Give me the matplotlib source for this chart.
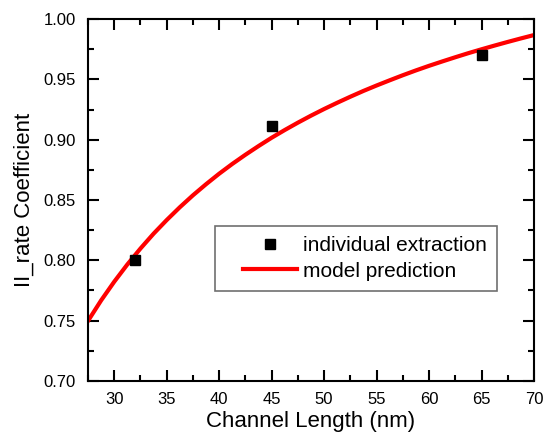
import matplotlib
matplotlib.use("Agg")
import matplotlib.pyplot as plt
from matplotlib.patches import Rectangle
from matplotlib.ticker import MultipleLocator

plt.rcParams["font.family"] = ["Liberation Sans", "DejaVu Sans"]

# extracted coefficients
length_pts = [32, 45, 65]
coef_pts = [0.800, 0.911, 0.970]

# model curve
length_model = [27.5, 28.75, 30, 31.25, 32.5, 33.75, 35, 36.25, 37.5, 38.75,
                40, 41.25, 42.5, 43.75, 45, 46.25, 47.5, 48.75, 50, 51.25,
                52.5, 53.75, 55, 56.25, 57.5, 58.75, 60, 61.25, 62.5, 63.75,
                65, 66.25, 67.5, 68.75, 70]
coef_model = [0.7498, 0.7668, 0.7823, 0.7966, 0.8098, 0.8221, 0.8334, 0.8440,
              0.8539, 0.8631, 0.8718, 0.8799, 0.8875, 0.8947, 0.9016, 0.9080,
              0.9141, 0.9199, 0.9254, 0.9306, 0.9356, 0.9404, 0.9449, 0.9492,
              0.9534, 0.9574, 0.9612, 0.9648, 0.9683, 0.9717, 0.9749, 0.9780,
              0.9810, 0.9839, 0.9867]

fig = plt.figure(figsize=(5.47, 4.44), dpi=100)
ax = fig.add_axes([0.1609, 0.1419, 0.8153, 0.8153])

ax.plot(length_model, coef_model, color="#ff0000", lw=3, label="model prediction",
        solid_joinstyle="round", zorder=2)
ax.plot(length_pts, coef_pts, ls="none", marker="s", ms=7.5, color="black",
        label="individual extraction", zorder=3)

ax.set_xlim(27.5, 70)
ax.set_ylim(0.70, 1.00)
ax.xaxis.set_major_locator(MultipleLocator(5))
ax.xaxis.set_minor_locator(MultipleLocator(2.5))
ax.yaxis.set_major_locator(MultipleLocator(0.05))
ax.yaxis.set_minor_locator(MultipleLocator(0.025))
ax.yaxis.set_major_formatter(matplotlib.ticker.FormatStrFormatter("%.2f"))

ax.tick_params(which="both", direction="in", top=True, right=True, width=1.5,
               labelsize=12)
ax.tick_params(axis="x", which="major", length=8, pad=8)
ax.tick_params(axis="y", which="major", length=8, pad=9)
ax.tick_params(which="minor", length=4.5)
for sp in ax.spines.values():
    sp.set_linewidth(1.5)

ax.set_xlabel("Channel Length (nm)", fontsize=16, labelpad=3)
ax.set_ylabel("II_rate Coefficient", fontsize=16, labelpad=6)

# legend box
box = Rectangle((0.285, 0.249), 0.632, 0.179, transform=ax.transAxes,
                facecolor="white", edgecolor="#707070", lw=1.2, zorder=4)
ax.add_patch(box)
h, l = ax.get_legend_handles_labels()
leg = ax.legend(h[::-1], l[::-1], loc="center left", bbox_to_anchor=(0.348, 0.3385),
                frameon=False, fontsize=15, handlelength=2.6, handletextpad=0.25,
                labelspacing=0.3, borderpad=0, borderaxespad=0)
leg.set_zorder(5)

plt.savefig("out.png", dpi=100)
